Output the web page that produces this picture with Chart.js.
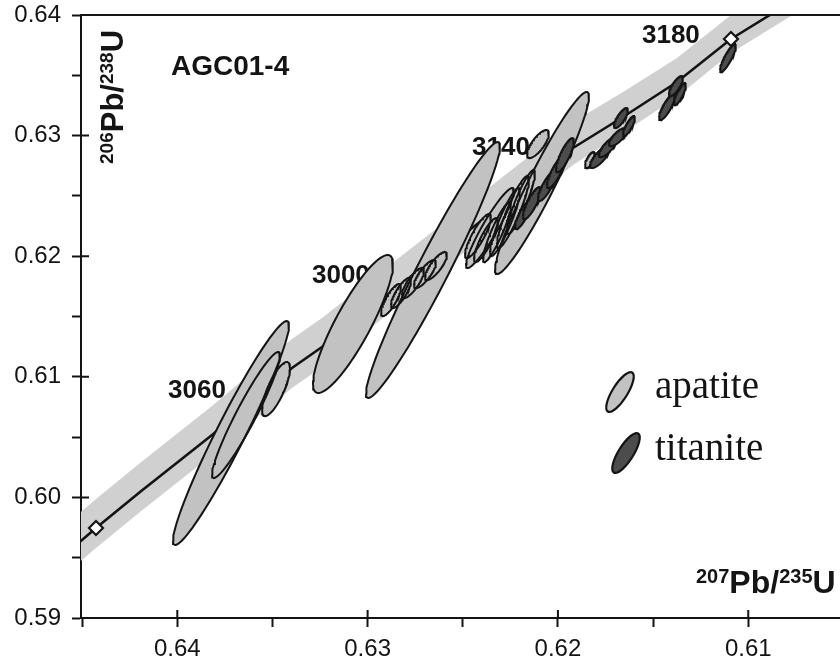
<!DOCTYPE html>
<html><head><meta charset="utf-8">
<script src="https://cdn.jsdelivr.net/npm/chart.js@4.4.1/dist/chart.umd.min.js"></script>
<style>html,body{margin:0;padding:0;background:#fff}canvas{display:block}</style>
</head><body>
<canvas id="c" width="840" height="667"></canvas>
<script>
// ---------------- data ----------------
const sampleName = 'AGC01-4';
const xRange = [0.60518, 0.64506];
const yRange = [0.59, 0.64];
const xTickValues = [0.645, 0.64, 0.635, 0.63, 0.625, 0.62, 0.615, 0.61];
const yTickValues = [0.59, 0.595, 0.60, 0.605, 0.61, 0.615, 0.62, 0.625, 0.63, 0.635, 0.64];

// concordia curve (207Pb/235U, 206Pb/238U) and its uncertainty envelope
const concordiaX = [0.646163,0.645007,0.644272,0.641960,0.638177,0.633974,0.632398,0.619210,0.616583,0.613746,0.610909,0.608860,0.606758];
const concordiaY = [0.595058,0.596468,0.597463,0.600448,0.605174,0.610730,0.612471,0.628972,0.631542,0.634444,0.638010,0.640000,0.642073];
const bandUpperY = [0.597463,0.598873,0.599868,0.602853,0.607579,0.613135,0.614876,0.631128,0.633615,0.636434,0.640000,0.641990,0.644063];
const bandLowerY = [0.593400,0.594810,0.595805,0.598790,0.603516,0.609072,0.610813,0.627562,0.630215,0.633200,0.636849,0.638839,0.640912];

// age markers on concordia
const markerX = [0.644272, 0.610909];
const markerY = [0.597463, 0.638010];
const ageLabels = ['3060', '3000', '3140', '3180'];
const ageLabelX = [0.640489, 0.632923, 0.624516, 0.615585];
const ageLabelY = [0.608242, 0.617778, 0.628391, 0.637678];

// apatite analyses: centre, half extents, error correlation
const apatiteX = [0.637179,0.636390,0.634814,0.630769,0.626565,0.620838,0.621049,0.628772,0.628247,0.627616,0.626986,0.626408,0.624201,0.623571,0.623203,0.622783,0.622362,0.621942,0.623781,0.618316];
const apatiteY = [0.605340,0.606833,0.608988,0.614378,0.618856,0.626070,0.629304,0.616368,0.616949,0.617778,0.618524,0.619188,0.621675,0.622338,0.622007,0.622836,0.623665,0.624494,0.621343,0.627977];
const apatiteSx = [0.003047,0.001786,0.000736,0.002102,0.003520,0.002469,0.000578,0.000525,0.000525,0.000578,0.000578,0.000578,0.000683,0.001261,0.000736,0.000788,0.000841,0.000736,0.000630,0.000263];
const apatiteSy = [0.009287,0.005224,0.002239,0.005721,0.010614,0.007546,0.001161,0.001327,0.001244,0.001244,0.001161,0.001161,0.001824,0.003317,0.002488,0.002819,0.002985,0.002653,0.001824,0.000663];
const apatiteRho = [-0.961,-0.945,-0.77,-0.866,-0.965,-0.95,-0.75,-0.8,-0.8,-0.8,-0.8,-0.8,-0.85,-0.93,-0.9,-0.9,-0.9,-0.9,-0.85,-0.7];

// titanite analyses
const titaniteX = [0.619630,0.620103,0.620576,0.621364,0.621837,0.616688,0.616267,0.616845,0.617371,0.617791,0.613798,0.613588,0.614271,0.611066];
const titaniteY = [0.628391,0.626982,0.625821,0.624411,0.623416,0.631460,0.630796,0.629884,0.629055,0.628226,0.634113,0.633450,0.632372,0.636435];
const titaniteSx = [0.000473,0.000473,0.000473,0.000473,0.000420,0.000368,0.000315,0.000473,0.000473,0.000525,0.000368,0.000315,0.000420,0.000420];
const titaniteSy = [0.001410,0.001327,0.001244,0.001327,0.001161,0.000829,0.000829,0.000746,0.000829,0.000912,0.000829,0.000912,0.001078,0.001161];
const titaniteRho = [-0.82,-0.82,-0.82,-0.82,-0.82,-0.78,-0.82,-0.75,-0.78,-0.78,-0.78,-0.82,-0.82,-0.86];

const legendLabels = ['apatite', 'titanite'];

// ---------------- build ----------------
const SANS = '"Liberation Sans", Arial, Helvetica, sans-serif';
const SERIF = '"Liberation Serif", "Times New Roman", serif';
const INK = '#141414';
const APATITE_FILL = '#c2c2c2';
const TITANITE_FILL = '#4c4c4c';
const BAND_FILL = '#d0d0d0';

function ellipse(cx, cy, sx, sy, r) {
  const pts = [], k = Math.sqrt(1 - r * r), N = 90;
  for (let i = 0; i <= N; i++) {
    const t = 2 * Math.PI * i / N;
    pts.push({x: cx + sx * Math.cos(t), y: cy + sy * (r * Math.cos(t) + k * Math.sin(t))});
  }
  return pts;
}

const datasets = [];
const bandPts = [];
concordiaX.forEach((x, i) => bandPts.push({x, y: bandUpperY[i]}));
for (let i = concordiaX.length - 1; i >= 0; i--) bandPts.push({x: concordiaX[i], y: bandLowerY[i]});
bandPts.push(bandPts[0]);
datasets.push({type: 'line', data: bandPts, borderWidth: 0, borderColor: 'rgba(0,0,0,0)', backgroundColor: BAND_FILL, fill: 'shape', pointRadius: 0, tension: 0, order: 100});
datasets.push({type: 'line', data: concordiaX.map((x, i) => ({x, y: concordiaY[i]})), borderColor: INK, borderWidth: 2.6, fill: false, pointRadius: 0, tension: 0, order: 90});
apatiteX.forEach((cx, i) => {
  const pts = ellipse(cx, apatiteY[i], apatiteSx[i], apatiteSy[i], apatiteRho[i]);
  datasets.push({type: 'line', data: pts, borderWidth: 0, borderColor: 'rgba(0,0,0,0)', backgroundColor: APATITE_FILL, fill: 'shape', pointRadius: 0, tension: 0, order: 60});
  datasets.push({type: 'line', data: pts, borderWidth: 2, borderColor: INK, fill: false, pointRadius: 0, tension: 0, order: 50});
});
titaniteX.forEach((cx, i) => {
  const pts = ellipse(cx, titaniteY[i], titaniteSx[i], titaniteSy[i], titaniteRho[i]);
  datasets.push({type: 'line', data: pts, borderWidth: 2, borderColor: INK, backgroundColor: TITANITE_FILL, fill: 'shape', pointRadius: 0, tension: 0, order: 30});
});
datasets.push({type: 'scatter', data: markerX.map((x, i) => ({x, y: markerY[i]})), pointStyle: 'rectRot', pointRadius: 7, backgroundColor: '#ffffff', borderColor: INK, borderWidth: 2.2, showLine: false, order: 10});

function isMajor(v) { return Math.abs(v * 100 - Math.round(v * 100)) < 1e-6; }

function drawRich(ctx, parts, x, y, big, small, raise) {
  let cx = x;
  parts.forEach(p => {
    ctx.font = 'bold ' + (p.sup ? small : big) + 'px ' + SANS;
    ctx.fillText(p.t, cx, p.sup ? y - raise : y);
    cx += ctx.measureText(p.t).width;
  });
}

const decor = {
  id: 'decor',
  beforeDatasetsDraw(chart) {
    const {ctx, chartArea: a} = chart;
    ctx.save();
    ctx.fillStyle = INK;
    ctx.textBaseline = 'alphabetic';
    ctx.textAlign = 'left';
    ctx.font = 'bold 28px ' + SANS;
    ctx.fillText(sampleName, a.left + 90, a.top + 60);
    ctx.save();
    ctx.translate(a.left + 42, a.top + 149);
    ctx.rotate(-Math.PI / 2);
    drawRich(ctx, [{t: '206', sup: true}, {t: 'Pb/'}, {t: '238', sup: true}, {t: 'U'}], 0, 0, 31, 19, 10);
    ctx.restore();
    drawRich(ctx, [{t: '207', sup: true}, {t: 'Pb/'}, {t: '235', sup: true}, {t: 'U'}], a.right - 144, a.bottom - 25, 32, 20, 10);
    ctx.restore();
  },
  afterDatasetDraw(chart, args) {
    if (args.index !== 0) return; // right after the envelope band
    const {ctx, scales: {x, y}} = chart;
    ctx.save();
    ctx.fillStyle = INK;
    ctx.textBaseline = 'alphabetic';
    ctx.textAlign = 'left';
    ctx.font = 'bold 26px ' + SANS;
    ageLabels.forEach((t, i) => ctx.fillText(t, x.getPixelForValue(ageLabelX[i]), y.getPixelForValue(ageLabelY[i])));
    ctx.restore();
  },
  afterDraw(chart) {
    const {ctx, chartArea: a, scales: {x, y}} = chart;
    ctx.save();
    ctx.strokeStyle = INK;
    ctx.lineWidth = 2;
    ctx.beginPath(); ctx.moveTo(a.left, a.top); ctx.lineTo(a.right, a.top); ctx.stroke();
    ctx.beginPath();
    x.ticks.forEach(t => { if (isMajor(t.value)) { const p = x.getPixelForValue(t.value); ctx.moveTo(p, a.bottom); ctx.lineTo(p, a.bottom - 8); } });
    y.ticks.forEach(t => { if (isMajor(t.value) && t.value < yRange[1] - 1e-9) { const p = y.getPixelForValue(t.value); ctx.moveTo(a.left, p); ctx.lineTo(a.left + 8, p); } });
    ctx.stroke();
    const lx = a.left + 539, ly = a.top + 377;
    const sym = [[lx, ly, APATITE_FILL], [lx + 6, ly + 61, TITANITE_FILL]];
    sym.forEach(([cx, cy, fill]) => {
      ctx.beginPath();
      ctx.ellipse(cx, cy, 7.5, 23, 32 * Math.PI / 180, 0, 2 * Math.PI);
      ctx.fillStyle = fill; ctx.fill();
      ctx.lineWidth = 2.2; ctx.stroke();
    });
    ctx.fillStyle = INK;
    ctx.font = '39px ' + SERIF;
    ctx.textAlign = 'left'; ctx.textBaseline = 'alphabetic';
    ctx.fillText(legendLabels[0], lx + 35, ly + 6);
    ctx.fillText(legendLabels[1], lx + 35, ly + 68);
    ctx.restore();
  }
};

const tickFont = {family: SANS, size: 24};
const gridOpts = {display: true, drawOnChartArea: false, drawTicks: true, tickLength: 9, tickWidth: 2, tickColor: INK, color: INK};
new Chart(document.getElementById('c'), {
  type: 'scatter',
  data: {datasets},
  options: {
    responsive: false, devicePixelRatio: 1, animation: false,
    layout: {autoPadding: false, padding: {top: 15, right: 0, left: 0, bottom: 0}},
    plugins: {legend: {display: false}, tooltip: {enabled: false}},
    scales: {
      x: {
        type: 'linear', reverse: true, min: xRange[0], max: xRange[1],
        afterBuildTicks(s) { s.ticks = xTickValues.map(v => ({value: v})); },
        afterFit(s) { s.height = 49; s.paddingLeft = 0; s.paddingRight = 0; },
        ticks: {autoSkip: false, maxRotation: 0, minRotation: 0, padding: 8, color: INK, font: tickFont,
          callback: v => isMajor(v) ? v.toFixed(2) : ''},
        grid: gridOpts,
        border: {display: true, width: 2, color: INK}
      },
      y: {
        type: 'linear', min: yRange[0], max: yRange[1],
        afterBuildTicks(s) { s.ticks = yTickValues.map(v => ({value: v})); },
        afterFit(s) { s.width = 81; s.paddingTop = 0; s.paddingBottom = 0; },
        ticks: {autoSkip: false, padding: 11, color: INK, font: tickFont,
          callback: v => isMajor(v) ? v.toFixed(2) : ''},
        grid: gridOpts,
        border: {display: true, width: 2, color: INK}
      }
    }
  },
  plugins: [decor]
});
</script>
</body></html>
